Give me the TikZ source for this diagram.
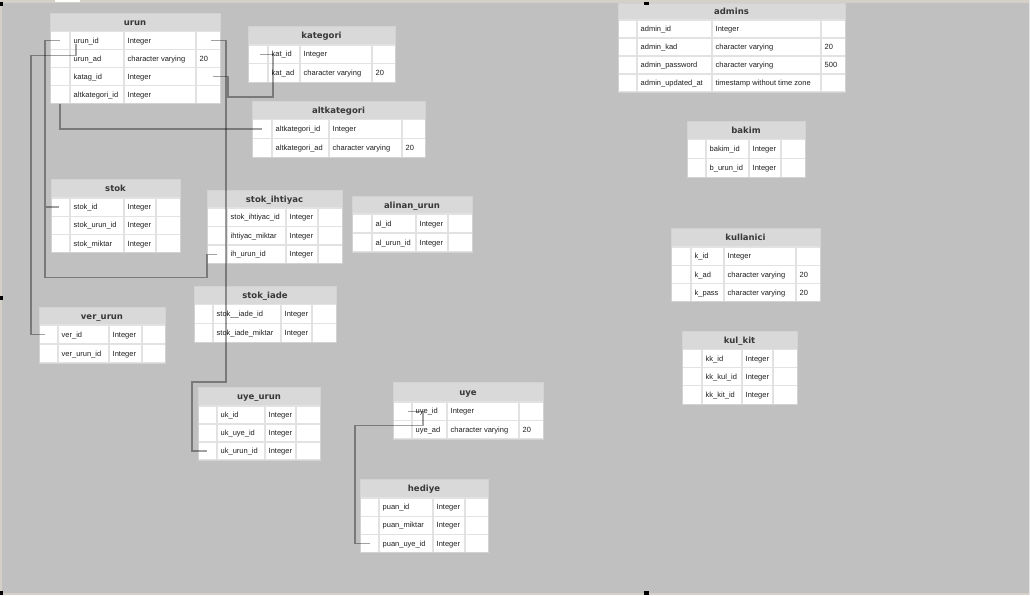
\documentclass[tikz,border=0pt]{standalone}
\usepackage{fontspec}
\setmainfont{Liberation Sans}
\newfontfamily\hdrfont{DejaVu Sans}
\usetikzlibrary{calc}

\definecolor{canvas}{HTML}{C0C0C0}
\definecolor{hdrbg}{HTML}{D9D9D9}
\definecolor{gridc}{HTML}{E2E2E2}
\definecolor{framec}{HTML}{D4D0C8}
\definecolor{edgec}{HTML}{D2D2D2}

\tikzset{
  hdrtext/.style={font=\hdrfont\bfseries\fontsize{8.5}{10}\selectfont, text=black!78, inner sep=0pt, anchor=mid},
  celltext/.style={font=\fontsize{7.5}{9}\selectfont, text=black!88, inner sep=0pt, anchor=mid west},
  rowbox/.style={fill=white, draw=none, inner sep=0pt, outer sep=0pt, anchor=north west},
  gridline/.style={draw=gridc, line width=1.1pt},
  tableedge/.style={draw=edgec, line width=1pt},
  conn/.style={draw=black, draw opacity=0.37, line width=1.25pt},
  handle/.style={fill=black},
}

% column edges: left, name, type, size, right
\def\parsecols#1,#2,#3,#4,#5\relax{\def\xa{#1}\def\xb{#2}\def\xc{#3}\def\xd{#4}\def\xe{#5}}
% top edge, header bottom, row height
\def\parseys#1,#2,#3\relax{\def\ya{#1}\def\yb{#2}\def\rowh{#3}}

% \dbtable{id}{title}{cols}{ys}{name/type/size, ...}
\newcommand{\dbtable}[5]{%
  \parsecols#3\relax
  \parseys#4\relax
  \fill[hdrbg] (\xa,\ya) rectangle (\xe,\yb);
  \node[hdrtext] (#1) at ({(\xa+\xe)/2},{(\ya+\yb)/2+0.5}) {#2};
  \foreach \fa/\fb/\fc [count=\i] in {#5} {
    \pgfmathsetmacro\ytp{\yb+(\i-1)*\rowh}
    \pgfmathsetmacro\ymd{\yb+(\i-0.5)*\rowh}
    \node[rowbox, minimum width={(\xe-\xa)*1pt}, minimum height={\rowh*1pt}] (#1-\i) at (\xa,\ytp) {};
    \node[celltext] (#1-\i-n) at (\xb+3.5,\ymd) {\fa};
    \node[celltext] (#1-\i-t) at (\xc+3.5,\ymd) {\fb};
    \node[celltext] (#1-\i-s) at (\xd+3.5,\ymd) {\fc};
    \xdef\nrows{\i}
  }
  \pgfmathsetmacro\yz{\yb+\nrows*\rowh}
  \draw[gridline] (\xb,\yb) -- (\xb,\yz) (\xc,\yb) -- (\xc,\yz) (\xd,\yb) -- (\xd,\yz);
  \foreach \k in {0,...,\nrows} {
    \pgfmathsetmacro\yk{\yb+\k*\rowh}
    \draw[gridline] (\xa,\yk) -- (\xe,\yk);
  }
  \draw[tableedge] (\xa,\ya) rectangle (\xe,\yz);
}

\begin{document}
\begin{tikzpicture}[x=1pt,y=-1pt]
\useasboundingbox (0,0) rectangle (1030,595);

% canvas and window frame
\fill[canvas] (0,0) rectangle (1030,595);
\fill[framec] (0,0) rectangle (1030,2.5);
\fill[framec] (0,0) rectangle (2,595);
\fill[framec] (0,593) rectangle (1030,595);
\fill[white!90!black] (1028.5,0) rectangle (1030,595);
\fill[white] (55,0) rectangle (80,1.5);

% tables
\dbtable{urun}{urun}{50,70,124,196,220}{13,31.5,18}
  {urun\_id/Integer/, urun\_ad/character varying/20, katag\_id/Integer/, altkategori\_id/Integer/}
\dbtable{kategori}{kategori}{248,268,300,372,395}{26,45,18.7}
  {kat\_id/Integer/, kat\_ad/character varying/20}
\dbtable{altkat}{altkategori}{252,272,329,402,425}{101,119.5,19}
  {altkategori\_id/Integer/, altkategori\_ad/character varying/20}
\dbtable{stok}{stok}{51,70,124,156,180}{179,198,18.2}
  {stok\_id/Integer/, stok\_urun\_id/Integer/, stok\_miktar/Integer/}
\dbtable{stokih}{stok\_ihtiyac}{207,227,286,318,342}{190,208,18.5}
  {stok\_ihtiyac\_id/Integer/, ihtiyac\_miktar/Integer/, ih\_urun\_id/Integer/}
\dbtable{alinan}{alinan\_urun}{352,372,416,448,472}{196,214,19}
  {al\_id/Integer/, al\_urun\_id/Integer/}
\dbtable{verurun}{ver\_urun}{39,58,109,142,165}{307,325,19}
  {ver\_id/Integer/, ver\_urun\_id/Integer/}
\dbtable{stokiade}{stok\_iade}{194,213,281,312,336}{286,304.5,19}
  {stok\_\_iade\_id/Integer/, stok\_iade\_miktar/Integer/}
\dbtable{uyeurun}{uye\_urun}{198,217,265,296,320}{387,406,18}
  {uk\_id/Integer/, uk\_uye\_id/Integer/, uk\_urun\_id/Integer/}
\dbtable{uye}{uye}{393,412,447,519,543}{382,402,18.5}
  {uye\_id/Integer/, uye\_ad/character varying/20}
\dbtable{hediye}{hediye}{360,379,433,465,488}{479,498,18.2}
  {puan\_id/Integer/, puan\_miktar/Integer/, puan\_uye\_id/Integer/}
\dbtable{admins}{admins}{618,637,712,821,845}{3,20,18}
  {admin\_id/Integer/, admin\_kad/character varying/20, admin\_password/character varying/500, admin\_updated\_at/timestamp without time zone/}
\dbtable{bakim}{bakim}{687,706,749,781,805}{121,139.5,18.8}
  {bakim\_id/Integer/, b\_urun\_id/Integer/}
\dbtable{kullanici}{kullanici}{671,691,724,796,820}{228,247,18.3}
  {k\_id/Integer/, k\_ad/character varying/20, k\_pass/character varying/20}
\dbtable{kulkit}{kul\_kit}{682,702,742,773,797}{331,349.5,18.2}
  {kk\_id/Integer/, kk\_kul\_id/Integer/, kk\_kit\_id/Integer/}

% relations
\draw[conn] ($(urun-1.west)+(10,0)$) -- ++(-15,0) coordinate (trunk)
    |- ($(stokih-3.south west)+(0,14)$) -- (stokih-3.west) -- ++(10,0)
  (trunk |- stok-1.west) -- ($(stok-1.west)+(8,0)$);
\draw[conn] ($(urun-1.south west)+(26,-6)$) -- ++(0,12)
    -| ($(verurun-1.west)+(-8,0)$) -- ($(verurun-1.west)+(6,0)$);
\draw[conn] ($(urun-1.east)+(-9,0)$) -- ++(15,0)
    |- ($(uyeurun-1.north west)+(-6,-24)$) |- ($(uyeurun-3.west)+(9,0)$);
\draw[conn] ($(urun-3.east)+(-7,0)$) -- ++(15,0) -- ++(0,20.5)
    -| ($(kategori-1.west)+(25,0)$) -- ($(kategori-1.west)+(12,0)$);
\draw[conn] ($(urun-4.south west)+(10,0)$) |- ($(altkat-1.west)+(10,0)$);
\draw[conn] ($(uye-1.west)+(15,0)$) -- ++(15,0) -- ++(0,14)
    -| ($(hediye-3.west)+(-5,0)$) -- ($(hediye-3.west)+(10,0)$);

% selection handles
\fill[handle] (0,2) rectangle (3,6);
\fill[handle] (0,296) rectangle (3,300);
\fill[handle] (0,591) rectangle (3,595);
\fill[handle] (644,1.5) rectangle (649,5);
\fill[handle] (644,591) rectangle (649,595);
\end{tikzpicture}
\end{document}
